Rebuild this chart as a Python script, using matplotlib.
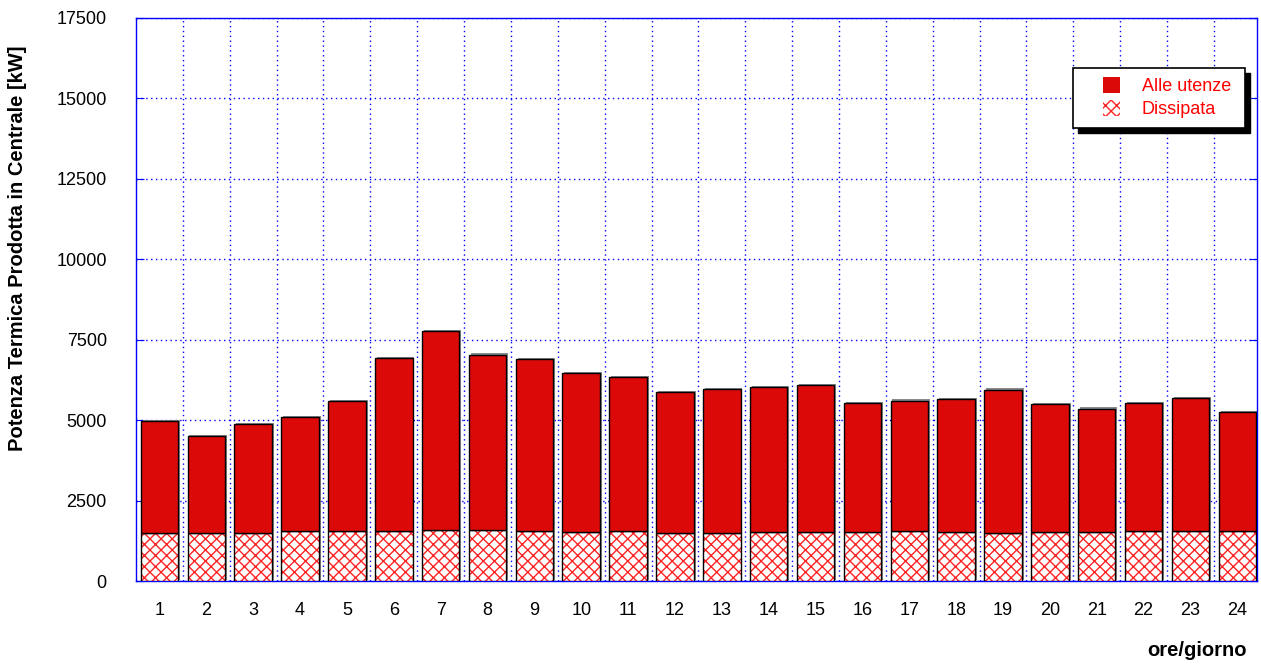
import numpy as np
import matplotlib
matplotlib.use("Agg")
import matplotlib.pyplot as plt
import matplotlib.patheffects as pe
from matplotlib.patches import Patch, Rectangle

plt.rcParams['font.family'] = ['Liberation Sans', 'DejaVu Sans']
plt.rcParams['hatch.linewidth'] = 1.0

# Potenza termica oraria [kW]
ore = np.arange(1, 25)
dissipata = [1490, 1490, 1490, 1540, 1550, 1550, 1590, 1590, 1560, 1520, 1540, 1490,
             1490, 1520, 1530, 1520, 1560, 1520, 1490, 1520, 1520, 1550, 1550, 1550]
utenze = [3490, 3010, 3390, 3550, 4050, 5370, 6190, 5450, 5330, 4930, 4810, 4390,
          4470, 4520, 4570, 4020, 4050, 4130, 4460, 3970, 3840, 3980, 4140, 3700]
totale = np.array(dissipata) + np.array(utenze)

rosso = '#dc0909'
rosso_tratt = '#ff2424'
blu = '#0000ff'
W, H = 1261, 664

fig = plt.figure(figsize=(W / 100, H / 100), dpi=100)
ax = fig.add_axes([136 / W, 83 / H, 1121 / W, 563 / H])

# ombra grigia dietro le barre
ax.bar(ore, totale, width=0.8, facecolor='none', linewidth=0, zorder=2,
       path_effects=[pe.SimplePatchShadow(offset=(1.4, 0.8), shadow_rgbFace='#8a8a8a', alpha=1)])
# parte dissipata: tratteggio rosso su fondo bianco
ax.bar(ore, dissipata, width=0.8, facecolor='white', edgecolor=rosso_tratt, hatch='xxx',
       linewidth=0, zorder=3)
ax.bar(ore, dissipata, width=0.8, fill=False, edgecolor='black', linewidth=1, zorder=4)
# parte alle utenze
ax.bar(ore, utenze, bottom=dissipata, width=0.8, color=rosso, edgecolor='black',
       linewidth=1, zorder=4)

ax.set_xlim(0.5, 24.42)
ax.set_ylim(0, 17500)
ax.set_yticks(np.arange(0, 17501, 2500))
ax.set_xticks(ore)
ax.set_xticks(np.arange(1.5, 24, 1), minor=True)

ax.set_axisbelow(True)
ax.yaxis.grid(True, color=blu, linestyle=(0, (1, 2.5)), linewidth=1)
ax.xaxis.grid(True, which='minor', color=blu, linestyle=(0, (1, 2.5)), linewidth=1)
ax.xaxis.grid(False, which='major')

for s in ax.spines.values():
    s.set_color(blu)
    s.set_linewidth(1)
ax.tick_params(axis='y', direction='in', length=6, color=blu, left=True, right=True,
               labelsize=13, pad=21)
ax.tick_params(axis='x', which='major', length=0, labelsize=13, pad=15)
ax.tick_params(axis='x', which='minor', length=0)

fig.text(18 / W, 1 - 248 / H, 'Potenza Termica Prodotta in Centrale [kW]', rotation=90,
         ha='center', va='center', fontsize=14.5, fontweight='bold')
fig.text(1247 / W, 1 - 651 / H, 'ore/giorno', ha='right', va='center',
         fontsize=14.5, fontweight='bold')

# riquadro della legenda con ombra nera
ax.add_patch(Rectangle(((1073 + 5) / W, 1 - (128 + 5) / H), 172 / W, 60 / H,
                       transform=fig.transFigure, facecolor='black', edgecolor='black',
                       clip_on=False, zorder=5))
ax.add_patch(Rectangle((1073 / W, 1 - 128 / H), 172 / W, 60 / H,
                       transform=fig.transFigure, facecolor='white', edgecolor='black',
                       linewidth=1.2, clip_on=False, zorder=6))
handles = [Patch(facecolor=rosso, label='Alle utenze'),
           Patch(facecolor='white', edgecolor=rosso_tratt, hatch='xxx', linewidth=0,
                 label='Dissipata')]
leg = ax.legend(handles=handles, loc='upper left', frameon=False,
                bbox_to_anchor=(1103 / W, 1 - 77 / H), bbox_transform=fig.transFigure,
                borderpad=0, borderaxespad=0, handlelength=0.95, handleheight=0.95,
                handletextpad=1.2, labelspacing=0.3, fontsize=13)
leg.set_zorder(7)
for t in leg.get_texts():
    t.set_color('#ff0000')

fig.savefig('out.png', dpi=100)
